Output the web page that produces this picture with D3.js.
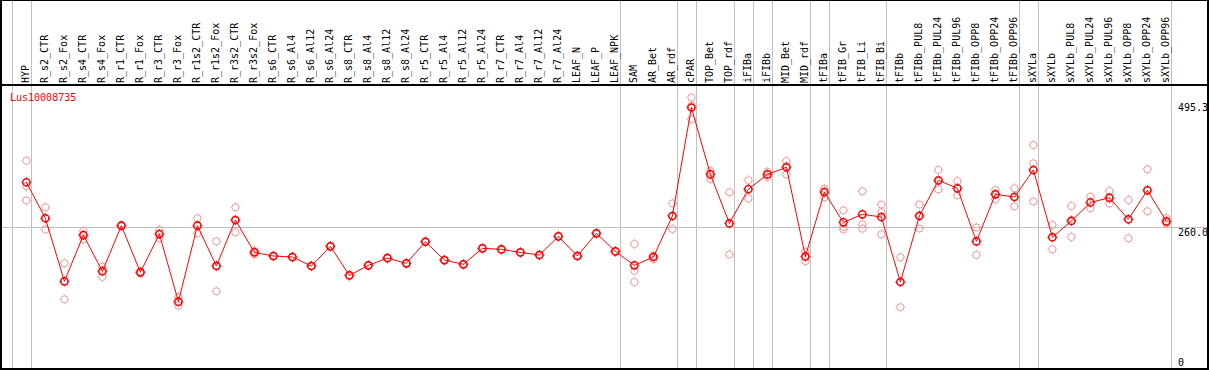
<!DOCTYPE html>
<html><head><meta charset="utf-8">
<script src="https://cdn.jsdelivr.net/npm/d3@7"></script>
<style>html,body{margin:0;padding:0;background:#fff;}svg{display:block;}</style>
</head><body>
<script>
const geneName = "Lus10008735";
const categories = ["HYP","R_s2_CTR","R_s2_Fox","R_s4_CTR","R_s4_Fox","R_r1_CTR","R_r1_Fox","R_r3_CTR","R_r3_Fox","R_r1s2_CTR","R_r1s2_Fox","R_r3s2_CTR","R_r3s2_Fox","R_s6_CTR","R_s6_Al4","R_s6_Al12","R_s6_Al24","R_s8_CTR","R_s8_Al4","R_s8_Al12","R_s8_Al24","R_r5_CTR","R_r5_Al4","R_r5_Al12","R_r5_Al24","R_r7_CTR","R_r7_Al4","R_r7_Al12","R_r7_Al24","LEAF_N","LEAF_P","LEAF_NPK","SAM","AR_Bet","AR_rdf","cPAR","TOP_Bet","TOP_rdf","iFIBa","iFIBb","MID_Bet","MID_rdf","tFIBa","tFIB_Gr","tFIB_Li","tFIB_Bi","tFIBb","tFIBb_PUL8","tFIBb_PUL24","tFIBb_PUL96","tFIBb_OPP8","tFIBb_OPP24","tFIBb_OPP96","sXYLa","sXYLb","sXYLb_PUL8","sXYLb_PUL24","sXYLb_PUL96","sXYLb_OPP8","sXYLb_OPP24","sXYLb_OPP96"];
const means = [348.6,278,154.3,245,174,263.5,172,247,114.5,263.5,184.4,274.6,211,204,202,184.4,223,166,185.7,200,189.6,232,196,187.7,219,217,211,206,242.6,204,248.5,213,185.7,202,282.5,495.3,364,268,335,364,378,203,329,270,285.8,280.5,153,282.5,352.5,336.8,232.8,325,319.7,372.7,240.7,272.7,309,318.4,276,332.8,272];
const rep1 = [391,299.5,189.6,253,183,265,174,255,124,278,232.8,299.5,214,205,203,185,224,167,186.7,201,190.6,233,197,188.7,220,218,212,207,243.6,205,249.5,214,227.5,197.5,307,514.8,371,329,352.5,369,390,212.5,336,293.6,331,305,201.5,305,372.7,351,260,333.5,336.8,421.7,264.8,302,320,331.5,313.8,374,278];
const rep2 = [341,256,119,236.7,163,262,170,238.7,106.5,248.5,134.7,250.5,207,203,201,184,222,165,184.7,199,188.6,231,195,186.7,218,216,210,205,241.6,203,247.5,212,175,204,257,472,355,207,317,359,364,194,319,261,266,290,103.4,258,334.8,323,206,315,301.5,385.8,217,241.3,298,307,238.7,291.7,268];
const rep3 = [313,278.5,154,245.3,176,263.5,172,247.3,113,264,185.7,273.8,212,204,202,184.2,223,166,185.7,200,189.6,232,196,187.7,219,217,211,206,242.6,204,248.5,213,153,204.5,283.5,499,366,268,335.5,364,380,202.5,332,256,257.6,246.5,154,284.5,350,336.5,232.4,326.5,320.8,311,240.3,274.8,309,316.7,275.5,332.7,270];
const axisTicks = [0, 260.0, 495.3];
const groupEnds = ["HYP","R_r7_A124","LEAF_NPK","AR_rdf","cPAR","TOP_rdf","iFIBa","iFIBb","MID_rdf","tFIBa","tFIB_Bi","tFIBb_OPP96","sXYLa","sXYLb_OPP96"];

const W = 1209, H = 370;
const svg = d3.select("body").append("svg").attr("width", W).attr("height", H);
const font = "'DejaVu Sans Mono', monospace";

const x = d3.scalePoint().domain(categories).range([26.4, 1166.4]);
const step = x.step();
const y = d3.scaleLinear().domain([0, 495.3]).range([360, 107.5]);

// separators (gray vertical lines)
const sepX = [x(categories[0]) - step + 4.4].concat(groupEnds.map(c => x(c) + 4.4));
svg.append("g").selectAll("line").data(sepX).join("line")
  .attr("x1", d => Math.round(d) + 0.5).attr("x2", d => Math.round(d) + 0.5)
  .attr("y1", 0).attr("y2", 369)
  .attr("stroke", "#c0c0c0").attr("stroke-width", 1);

// horizontal reference line at 260
svg.append("line")
  .attr("x1", 1).attr("x2", 1208)
  .attr("y1", Math.round(y(260)) + 0.5).attr("y2", Math.round(y(260)) + 0.5)
  .attr("stroke", "#c0c0c0").attr("stroke-width", 1);

// borders
const border = svg.append("g").attr("stroke", "#000").attr("stroke-width", 2).attr("fill", "none");
border.append("rect").attr("x", 1).attr("y", 0).attr("width", 1207).attr("height", 369);
border.append("line").attr("x1", 0).attr("x2", W).attr("y1", 85).attr("y2", 85);

// category labels
svg.append("g").selectAll("text").data(categories).join("text")
  .attr("transform", d => `translate(${x(d) + 2.6},83) rotate(-90)`)
  .attr("font-family", font).attr("font-size", 10).attr("fill", "#000")
  .text(d => d);

// gene name
svg.append("text").attr("x", 10).attr("y", 101)
  .attr("font-family", font).attr("font-size", 10).attr("fill", "#ff0000")
  .text(geneName);

// axis labels on right
const tickOffset = v => v === 0 ? 5.5 : (v === 495.3 ? 3 : 8.5);
svg.append("g").selectAll("text").data(axisTicks).join("text")
  .attr("x", 1178).attr("y", d => y(d) + tickOffset(d))
  .attr("font-family", font).attr("font-size", 10).attr("fill", "#000")
  .text(d => d === 0 ? "0" : d.toFixed(1));

function marker(g, cx, cy, color, sw) {
  g.append("circle").attr("cx", cx).attr("cy", cy).attr("r", 3.6)
    .attr("fill", "none").attr("stroke", color).attr("stroke-width", sw);
  g.append("path")
    .attr("d", `M${cx},${cy-4.9}V${cy-4}M${cx},${cy+4}V${cy+4.9}M${cx-4.9},${cy}H${cx-4}M${cx+4},${cy}H${cx+4.9}`)
    .attr("stroke", color).attr("stroke-width", 1).attr("fill", "none");
}

// replicates
const repG = svg.append("g");
[rep1, rep2, rep3].forEach(rep => {
  rep.forEach((v, i) => marker(repG, x(categories[i]), y(v), "#f09a9a", 1));
});

// mean line
const line = d3.line().x((d, i) => x(categories[i])).y(d => y(d));
svg.append("path").datum(means).attr("d", line)
  .attr("fill", "none").attr("stroke", "#ff0000").attr("stroke-width", 1);

// means
const meanG = svg.append("g");
means.forEach((v, i) => marker(meanG, x(categories[i]), y(v), "#ff0000", 1.5));
</script>
</body></html>
